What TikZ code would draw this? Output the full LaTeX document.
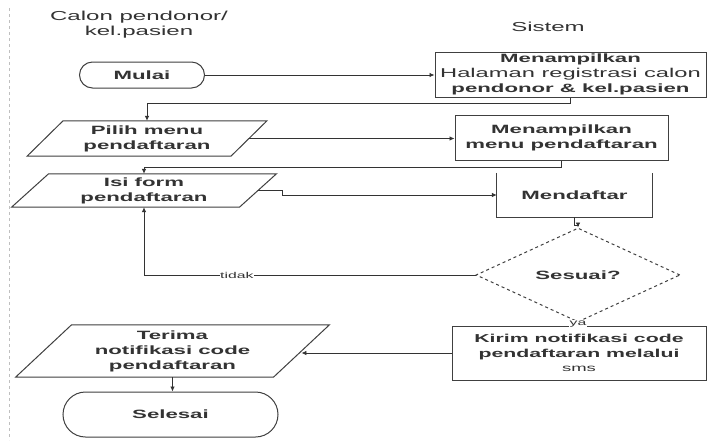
\documentclass[tikz,border=0pt]{standalone}
\usepackage{fontspec}
\newfontfamily\wf[FakeStretch=1.85]{Liberation Sans}
\usetikzlibrary{shapes.geometric,arrows.meta}
\newcommand\paral[2]{\draw[shapeline] ([xshift=#2]#1.north west) -- ([xshift=#2]#1.north east) -- ([xshift=-#2]#1.south east) -- ([xshift=-#2]#1.south west) -- cycle;}
\begin{document}
\begin{tikzpicture}[x=1pt,y=-1pt,
  txt/.style={font=\wf\bfseries\fontsize{12}{15}\selectfont, text=black!80, align=center, inner sep=0pt},
  shapeline/.style={draw=black!75, line width=1pt},
  box/.style={txt, shapeline, rectangle},
  term/.style={box, rounded corners=#1},
  conn/.style={draw=black!80, line width=0.8pt},
  arr/.style={conn, -{Latex[length=5pt,width=4.5pt]}},
  lbl/.style={font=\wf\fontsize{8.5}{10}\selectfont, fill=white, inner sep=0.5pt, text=black!80},
  hdr/.style={font=\wf\fontsize{13}{15}\selectfont, text=black!80, align=center, inner sep=0pt}]
\useasboundingbox (0,0) rectangle (707,442);
\fill[white] (0,0) rectangle (707,442);
\draw[black!25, dashed, line width=0.8pt] (9,8) -- (9,440);

% headers
\node[hdr] (h1) at (139,25) {Calon pendonor/\\kel.pasien};
\node[hdr] (h2) at (548,27) {Sistem};

% nodes
\node[term=13pt, minimum width=125pt, minimum height=26pt] (mulai) at (142,75) {Mulai};
\node[box, minimum width=271pt, minimum height=45pt] (b1) at (570.5,74.5)
  {Menampilkan\\{\mdseries\fontsize{12.8}{15}\selectfont Halaman registrasi calon}\\pendonor \& kel.pasien};
\node[txt, minimum width=203.5pt, minimum height=35pt] (pilih) at (147,138.5) {Pilih menu\\pendaftaran};
\paral{pilih}{18pt}
\node[box, minimum width=213pt, minimum height=45pt] (b2) at (561.5,137.5) {Menampilkan\\menu pendaftaran};
\node[txt, minimum width=227.5pt, minimum height=33pt] (isi) at (144,190.5) {Isi form\\pendaftaran};
\paral{isi}{18.5pt}
\node[txt, minimum width=155pt, minimum height=44pt] (daftar) at (574.5,195) {Mendaftar};
\draw[shapeline] (daftar.north west) -- (daftar.south west) -- (daftar.south east) -- (daftar.north east);
\node[txt, shape=diamond, shapeline, dashed, minimum width=204pt, minimum height=55pt] (dia) at (578,275) {Sesuai?};
\node[box, minimum width=254pt, minimum height=54pt, font=\wf\bfseries\fontsize{11.5}{14.5}\selectfont] (kirim) at (579,353)
  {Kirim notifikasi code\\pendaftaran melalui\\{\mdseries\fontsize{10}{12}\selectfont sms}};
\node[txt, minimum width=257.5pt, minimum height=52pt] (terima) at (172.5,351) {Terima\\notifikasi code\\pendaftaran};
\paral{terima}{28pt}
\node[term=22.5pt, minimum width=215pt, minimum height=45pt] (selesai) at (170.5,414.5) {Selesai};

% connectors
\draw[arr] (mulai.east) -- (mulai.east -| b1.west);
\draw[arr] (b1.south) -- ++(0,6) -| (pilih.north);
\draw[arr] (pilih.east) -- (pilih.east -| b2.west);
\draw[arr] (b2.south) -- ++(0,7) -| (isi.north);
\draw[arr] (isi.east) -- ++(24,0) |- (daftar.west);
\draw[arr] (daftar.south) -- ++(0,8) -| (dia.north);
\draw[arr] (dia.west) -| node[lbl, pos=0.36] {tidak} (isi.south);
\draw[arr] (dia.south) -- node[lbl, pos=0.4] {ya} (dia.south |- kirim.north);
\draw[arr] (kirim.west) -- (kirim.west -| terima.east);
\draw[arr] (terima.south) -- (terima.south |- selesai.north);
\end{tikzpicture}
\end{document}
